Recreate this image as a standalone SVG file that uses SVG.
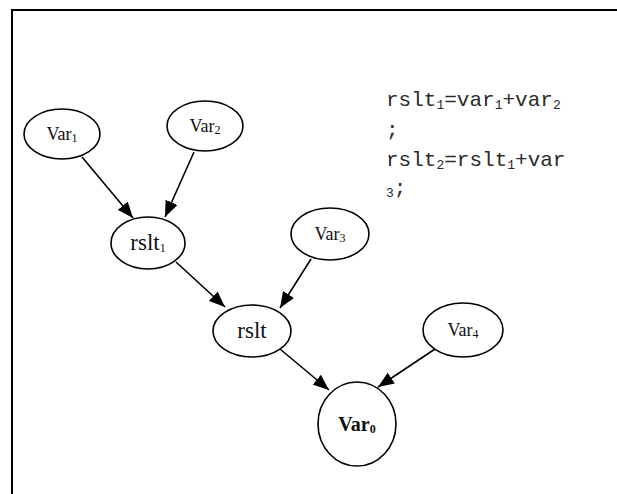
<svg xmlns="http://www.w3.org/2000/svg" width="617" height="494" viewBox="0 0 617 494">
  <style>
    .frame { fill: none; stroke: #000; stroke-width: 2; }
    .node ellipse { fill: #fff; stroke: #000; stroke-width: 1.6; }
    .lbl { font-family: "Liberation Serif", "Times New Roman", serif; font-size: 18px; fill: #111; text-anchor: middle; }
    .big { font-size: 23px; }
    .bold { font-weight: bold; font-size: 20px; }
    .sub { font-size: 12px; }
    .edge { stroke: #000; stroke-width: 1.6; fill: none; marker-end: url(#arrow); }
    .code { font-family: "Liberation Mono", "Courier New", monospace; font-size: 21px; fill: #2a2a2a; }
    .csub { font-size: 13px; }
  </style>
  <defs>
    <marker id="arrow" markerUnits="userSpaceOnUse" markerWidth="17" markerHeight="13" refX="16" refY="6.5" orient="auto">
      <path d="M0,0 L16,6.5 L0,13 z" fill="#000"/>
    </marker>
  </defs>

  <!-- page frame (left and top edges) -->
  <path class="frame" d="M12,494 V10 H617"/>

  <!-- assignment code -->
  <g id="code">
    <text class="code" x="386" y="106">rslt<tspan class="csub" dy="3">1</tspan><tspan dy="-3">=var</tspan><tspan class="csub" dy="3">1</tspan><tspan dy="-3">+var</tspan><tspan class="csub" dy="3">2</tspan></text>
    <text class="code" x="386" y="136">;</text>
    <text class="code" x="386" y="166">rslt<tspan class="csub" dy="3">2</tspan><tspan dy="-3">=rslt</tspan><tspan class="csub" dy="3">1</tspan><tspan dy="-3">+var</tspan></text>
    <text class="code" x="386" y="194"><tspan class="csub" dy="3">3</tspan><tspan dy="-3">;</tspan></text>
  </g>

  <!-- connectors -->
  <g id="edges">
    <line class="edge" x1="82" y1="157" x2="133" y2="218"/>
    <line class="edge" x1="194" y1="152" x2="165" y2="217"/>
    <line class="edge" x1="176" y1="262" x2="225" y2="307"/>
    <line class="edge" x1="311" y1="259" x2="280" y2="308"/>
    <line class="edge" x1="280" y1="349" x2="329" y2="390"/>
    <line class="edge" x1="435" y1="349" x2="378" y2="387"/>
  </g>

  <!-- nodes -->
  <g id="var1" class="node">
    <ellipse cx="62" cy="134" rx="38" ry="25"/>
    <text class="lbl" x="62" y="140">Var<tspan class="sub" dy="2">1</tspan></text>
  </g>
  <g id="var2" class="node">
    <ellipse cx="205" cy="126" rx="38" ry="25"/>
    <text class="lbl" x="205" y="132">Var<tspan class="sub" dy="2">2</tspan></text>
  </g>
  <g id="rslt1" class="node">
    <ellipse cx="148" cy="243" rx="37" ry="26"/>
    <text class="lbl big" x="148" y="250">rslt<tspan class="sub" dy="2">1</tspan></text>
  </g>
  <g id="var3" class="node">
    <ellipse cx="330" cy="234" rx="39" ry="26"/>
    <text class="lbl" x="330" y="240">Var<tspan class="sub" dy="2">3</tspan></text>
  </g>
  <g id="rslt" class="node">
    <ellipse cx="252" cy="331" rx="39" ry="26"/>
    <text class="lbl big" x="252" y="338">rslt</text>
  </g>
  <g id="var4" class="node">
    <ellipse cx="463" cy="330" rx="40" ry="27"/>
    <text class="lbl" x="463" y="336">Var<tspan class="sub" dy="2">4</tspan></text>
  </g>
  <g id="var0" class="node">
    <ellipse cx="357" cy="424" rx="39" ry="42"/>
    <text class="lbl bold" x="357" y="431">Var<tspan class="sub" dy="2">0</tspan></text>
  </g>
</svg>
